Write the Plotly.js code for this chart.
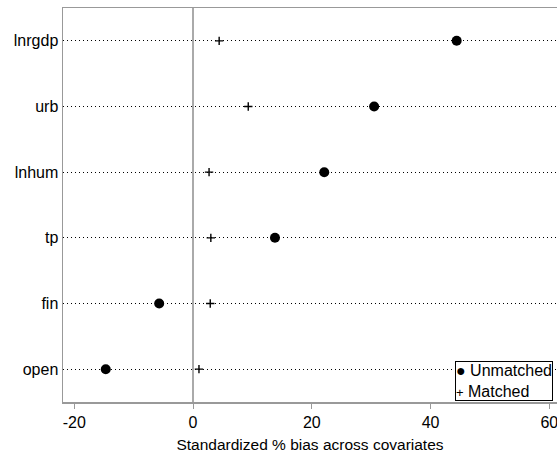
<!DOCTYPE html>
<html>
<head>
<meta charset="utf-8">
<script src="https://cdn.plot.ly/plotly-3.0.1.min.js"></script>
<style>html,body{margin:0;padding:0;background:#fff;}#chart{width:557px;height:457px;}</style>
</head>
<body>
<div id="chart"></div>
<script>
const covariates = ["lnrgdp", "urb", "lnhum", "tp", "fin", "open"];
const unmatchedBias = [44.4, 30.5, 22.1, 13.8, -5.7, -14.7];
const matchedBias = [4.4, 9.3, 2.7, 3.0, 2.9, 1.0];
const xTicks = [-20, 0, 20, 40, 60];
const seriesNames = ["Unmatched", "Matched"];

const data = [
  {
    type: "scatter", mode: "markers", name: seriesNames[0],
    x: unmatchedBias, y: covariates,
    marker: {symbol: "circle", size: 10, color: "#000"}
  },
  {
    type: "scatter", mode: "markers", name: seriesNames[1],
    x: matchedBias, y: covariates,
    marker: {symbol: "cross-thin", size: 6, color: "#000", line: {width: 1.4, color: "#000"}}
  }
];

const layout = {
  width: 557, height: 457,
  margin: {l: 63, r: 0, t: 8, b: 55},
  paper_bgcolor: "#fff", plot_bgcolor: "#fff",
  font: {family: "Liberation Sans, Arial, sans-serif", size: 16, color: "#000"},
  showlegend: false,
  annotations: [{
    xref: "paper", yref: "paper",
    x: 0.992, xanchor: "right", y: 0.003, yanchor: "bottom",
    text: "\u25CF " + seriesNames[0] + "<br><span style='font-size:13px'>+</span> " + seriesNames[1],
    align: "left", showarrow: false,
    font: {size: 16, color: "#000"},
    bgcolor: "#fff", bordercolor: "#000", borderwidth: 1, borderpad: 0
  }],
  xaxis: {
    range: [-21.9, 61.3],
    tickvals: xTicks, ticktext: xTicks.map(String),
    ticks: "outside", ticklen: 5, tickcolor: "#999",
    ticklabeloverflow: "allow",
    showline: true, linecolor: "#999", linewidth: 1.5, mirror: true,
    showgrid: false,
    zeroline: true, zerolinecolor: "#aaa", zerolinewidth: 2,
    tickfont: {size: 16},
    title: {text: "Standardized % bias across covariates", font: {size: 15.5}, standoff: 9},
    fixedrange: true
  },
  yaxis: {
    type: "category",
    categoryorder: "array", categoryarray: covariates.slice().reverse(),
    range: [-0.5, 5.5],
    showline: true, linecolor: "#999", linewidth: 1.5,
    ticks: "", showgrid: true, gridcolor: "#000", gridwidth: 1, griddash: "1px,3px",
    tickfont: {size: 16},
    zeroline: false, fixedrange: true
  }
};

Plotly.newPlot("chart", data, layout, {displayModeBar: false, staticPlot: true});
</script>
</body>
</html>
